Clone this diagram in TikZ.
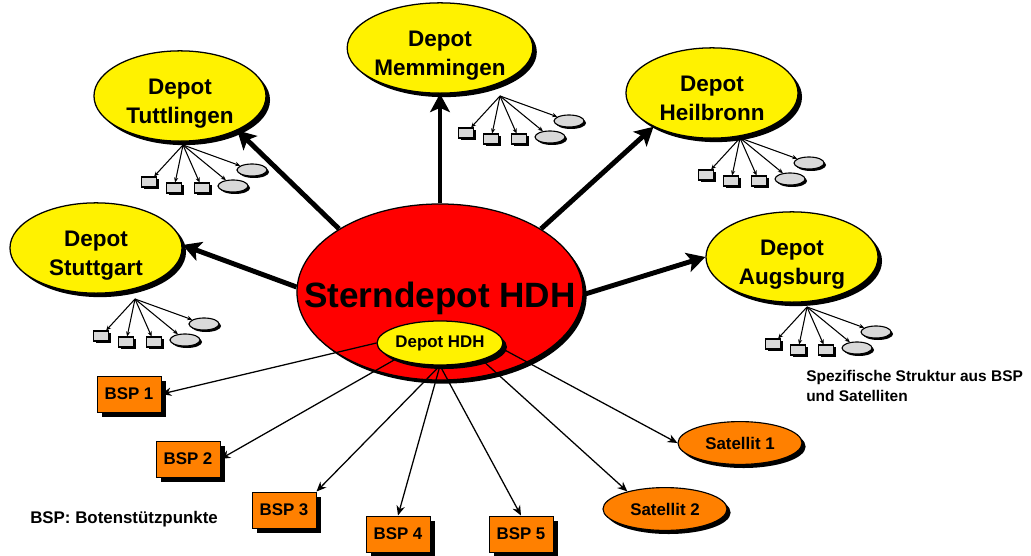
\documentclass[tikz,border=0pt]{standalone}
\usepackage{fontspec}
\setmainfont{Liberation Sans}
\usetikzlibrary{shapes.geometric,shadows,arrows.meta}
\definecolor{bsporange}{RGB}{255,128,0}
\definecolor{kleingrau}{RGB}{217,217,217}
\tikzset{
  schatten/.style={drop shadow={shadow xshift=#1,shadow yshift=-#1,fill=black,opacity=1}},
  depot/.style={ellipse,draw,line width=0.9pt,fill=yellow,inner sep=0pt,minimum width=4.3cm,minimum height=2.25cm,
    align=center,text height=42pt,text depth=3.4pt,font=\fontsize{16}{20.5}\selectfont\bfseries,schatten=0.1cm},
  bsp/.style={draw,line width=0.7pt,fill=bsporange,minimum width=1.6cm,minimum height=0.9cm,inner sep=0pt,
    font=\fontsize{12}{14}\selectfont\bfseries,schatten=0.12cm},
  sat/.style={ellipse,draw,line width=0.8pt,fill=bsporange,minimum width=3.1cm,minimum height=1.07cm,inner sep=0pt,
    font=\fontsize{12}{14}\selectfont\bfseries,schatten=0.09cm},
  dick/.style={line width=3.5pt,-{Stealth[length=13pt,width=14pt,inset=3pt]}},
  duenn/.style={line width=0.9pt,-{Stealth[length=7pt,width=6pt]}},
  klein/.style={line width=0.75pt,-{Stealth[length=3.5pt,width=3pt]}},
  kasten/.style={draw,line width=0.8pt,fill=kleingrau,minimum width=0.375cm,minimum height=0.25cm,inner sep=0pt,schatten=0.05cm},
  oval/.style={ellipse,draw,line width=0.8pt,fill=kleingrau,minimum width=0.75cm,minimum height=0.3cm,inner sep=0pt,schatten=0.05cm},
  % BSP und Satelliten unter einem Depot
  pics/filiale/.style={code={
    \coordinate (-o) at (0,0);
    \node[kasten] (-k1) at (-34,37) {};
    \node[kasten] (-k2) at (-9,43) {};
    \node[kasten] (-k3) at (19,43) {};
    \node[oval] (-e1) at (50,41) {};
    \node[oval] (-e2) at (69,25) {};
    \foreach \z in {k1,k2,k3,e1,e2} \draw[klein] (-o) -- (-\z);
  }}
}
\begin{document}
\begin{tikzpicture}[x=0.025cm,y=-0.025cm]
\useasboundingbox (0,0) rectangle (1031,556);
% Sterndepot mit Depot HDH
\node[ellipse,draw,line width=0.9pt,fill=red,minimum width=7.15cm,minimum height=4.4cm,schatten=0.09cm,
  label={[font=\fontsize{25}{30}\selectfont\bfseries,text depth=0pt,yshift=-2pt]center:Sterndepot HDH}] (hub) at (440,292) {};
\node[ellipse,draw,line width=0.9pt,fill=yellow,minimum width=3.1cm,minimum height=1.1cm,inner sep=0pt,schatten=0.1cm,
  font=\fontsize{12}{14}\selectfont\bfseries] (dhdh) at (440,343) {Depot HDH};

% Depots
\node[depot] (tut) at (180,96) {Depot\\Tuttlingen};
\node[depot] (mem) at (440,48) {Depot\\Memmingen};
\node[depot] (hei) at (712,93) {Depot\\Heilbronn};
\node[depot] (stu) at (96,248) {Depot\\Stuttgart};
\node[depot] (aug) at (792,257) {Depot\\Augsburg};

\draw[dick] (hub.148) -- (tut.-31);
\draw[dick] (hub.north) -- (mem.south);
\draw[dick] (hub.32) -- (hei.210);
\draw[dick] (hub.178) -- (stu.2);
\draw[dick] (hub.-1) -- (aug.180);

\pic (tutnetz) at (183,145) {filiale};
\pic (memnetz) at (500,96) {filiale};
\pic (heinetz) at (740,138) {filiale};
\pic (stunetz) at (135,299) {filiale};
\pic (augnetz) at (807,307) {filiale};

% Botenstuetzpunkte und Satelliten
\node[bsp] (bsp1) at (129,394) {BSP 1};
\node[bsp] (bsp2) at (188,459) {BSP 2};
\node[bsp] (bsp3) at (284,510) {BSP 3};
\node[bsp] (bsp4) at (398,534) {BSP 4};
\node[bsp] (bsp5) at (521,534) {BSP 5};
\node[sat] (sat1) at (740,443) {Satellit 1};
\node[sat] (sat2) at (665,509) {Satellit 2};

\draw[duenn] (dhdh.west) -- (bsp1.east);
\draw[duenn] (dhdh.200) -- (bsp2.east);
\draw[duenn] (dhdh.south) -- (bsp3.north east);
\draw[duenn] (dhdh.south) -- (bsp4.north);
\draw[duenn] (dhdh.south) -- (bsp5.north);
\draw[duenn] (dhdh.-22) -- (sat2.155);
\draw[duenn] (dhdh.-5) -- (sat1.west);

% Legenden
\node[anchor=north west,inner sep=0pt,align=left,font=\fontsize{11}{14}\selectfont\bfseries] (struktur) at (806,370)
  {Spezifische Struktur aus BSP\\und Satelliten};
\node[anchor=base west,inner sep=0pt,font=\fontsize{12}{14}\selectfont\bfseries] (legende) at (30,523)
  {BSP: Botenstützpunkte};
\end{tikzpicture}
\end{document}
